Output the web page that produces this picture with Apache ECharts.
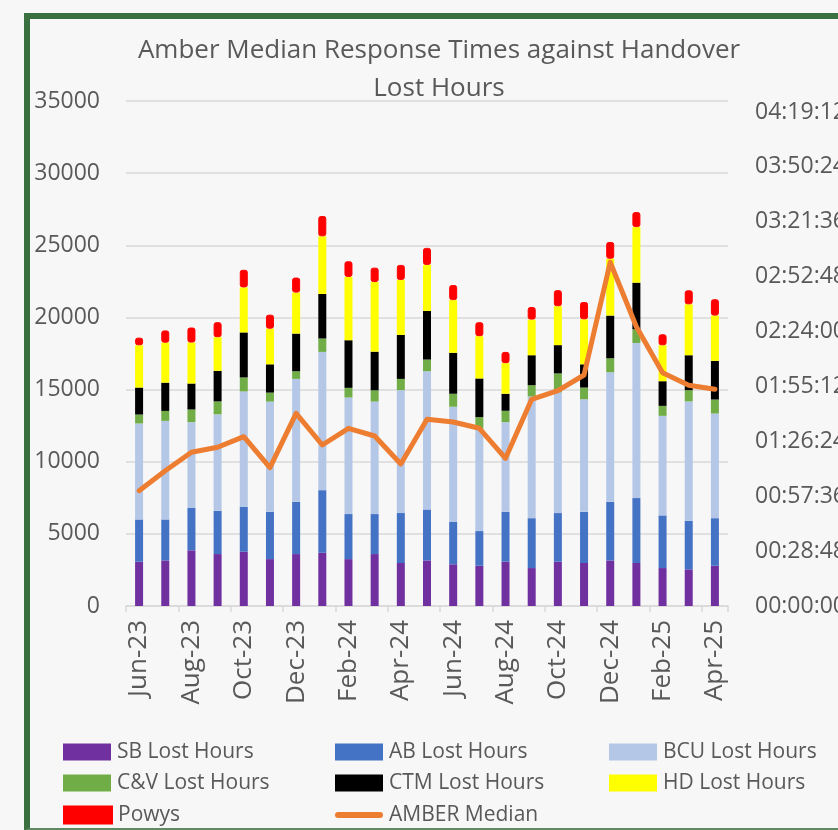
<!DOCTYPE html>
<html>
<head>
<meta charset="utf-8">
<script src="https://cdn.jsdelivr.net/npm/echarts@6/dist/echarts.min.js"></script>
<style>
  html, body { margin: 0; padding: 0; background: #f7f7f7; }
  #frame { position: absolute; left: 24px; top: 13px; width: 900px; height: 809px;
           border-left: 6px solid #3a6f40; border-top: 6px solid #3a6f40; border-bottom: 2px solid #5f8a63; }
  #chart { position: absolute; left: 0; top: 0; width: 838px; height: 830px; }
</style>
</head>
<body>
<div id="frame"></div>
<div id="chart"></div>
<script>
const categories = ['Jun-23','Jul-23','Aug-23','Sep-23','Oct-23','Nov-23','Dec-23','Jan-24','Feb-24','Mar-24','Apr-24','May-24',
  'Jun-24','Jul-24','Aug-24','Sep-24','Oct-24','Nov-24','Dec-24','Jan-25','Feb-25','Mar-25','Apr-25'];
const sbLost  = [3070,3160,3860,3600,3760,3250,3600,3690,3250,3600,2980,3160,2890,2790,3070,2630,3070,2980,3160,2980,2630,2540,2790];
const abLost  = [2930,2840,2930,3000,3120,3280,3620,4340,3120,2770,3460,3530,2930,2400,3460,3460,3370,3550,4060,4500,3650,3370,3300];
const bcuLost = [6650,6830,5950,6680,7990,7640,8520,9580,8080,7800,8520,9580,7990,7090,6210,8430,8360,7800,8980,10750,6900,8270,7250];
const cvLost  = [620,690,880,900,970,620,530,930,670,780,780,810,900,810,790,780,1320,810,970,950,690,780,970];
const ctmLost = [1870,1960,1800,2120,3120,1960,2610,3090,3300,2680,3050,3370,2840,2680,1180,2080,1960,1610,2960,3230,1710,2420,2680];
const hdLost  = [2930,2770,2840,2330,3120,2470,2840,3990,4390,4820,3810,3190,3650,2930,2120,2470,2700,3120,3940,3850,2490,3530,3140];
const powys   = [530,850,1040,1040,1220,970,1040,1410,1080,1000,1040,1180,1040,970,780,870,1110,1200,1160,1040,760,970,1130];
// AMBER median response time, in seconds
const amberMedian = [3630,4259,4838,4996,5330,4354,6066,5068,5594,5352,4470,5877,5792,5594,4650,6507,6778,7272,10820,8792,7344,6948,6822];
const leftTicks = { min: 0, max: 35000, interval: 5000 };
const rightTicks = { min: 0, max: 15897.6, interval: 1728, lastLabel: 15552 };

const FONT = "'Open Sans', 'Noto Sans', sans-serif";
const GRAY = '#595959';

function hms(v) {
  if (v > rightTicks.lastLabel + 1) return '';
  const s = Math.round(v);
  const h = Math.floor(s / 3600), m = Math.floor((s % 3600) / 60), ss = s % 60;
  const p = n => String(n).padStart(2, '0');
  return p(h) + ':' + p(m) + ':' + p(ss);
}

const barSeries = [
  ['SB Lost Hours', sbLost, '#7030a0'],
  ['AB Lost Hours', abLost, '#4472c4'],
  ['BCU Lost Hours', bcuLost, '#b4c7e7'],
  ['C&V Lost Hours', cvLost, '#70ad47'],
  ['CTM Lost Hours', ctmLost, '#000000'],
  ['HD Lost Hours', hdLost, '#ffff00'],
  ['Powys', powys, '#ff0000']
].map(([name, data, color]) => ({
  name, type: 'bar', stack: 'lost', data, barWidth: 8,
  itemStyle: name === 'Powys' ? { color, borderColor: color, borderWidth: 1, borderRadius: 2 } : { color },
  emphasis: { disabled: true }
}));

// legend placement: [name, column, row]
const legendCols = [63, 335, 609];
const legendRows = [741.5, 772.5, 804.5];
const legendLayout = [
  ['SB Lost Hours', 0, 0], ['AB Lost Hours', 1, 0], ['BCU Lost Hours', 2, 0],
  ['C&V Lost Hours', 0, 1], ['CTM Lost Hours', 1, 1], ['HD Lost Hours', 2, 1],
  ['Powys', 0, 2], ['AMBER Median', 1, 2]
];
const legends = legendLayout.map(([name, c, r]) => ({
  orient: 'horizontal', left: legendCols[c], top: legendRows[r], padding: 0,
  itemWidth: 48, itemHeight: name === 'AMBER Median' ? 6 : 17, icon: 'rect',
  textStyle: { color: GRAY, fontSize: 21, fontFamily: FONT, lineHeight: 17, padding: [0, 0, 0, 1] },
  data: name === 'AMBER Median'
    ? [{ name, icon: 'path://M3,0 L45,0 A3,3 0 0 1 45,6 L3,6 A3,3 0 0 1 3,0 Z', itemStyle: { color: '#ed7d31' } }]
    : [name]
}));

const chart = echarts.init(document.getElementById('chart'), null, { renderer: 'canvas' });
chart.setOption({
  animation: false,
  backgroundColor: 'transparent',
  title: {
    text: 'Amber Median Response Times against Handover\nLost Hours',
    left: 434, top: 27, textAlign: 'center',
    textStyle: { color: GRAY, fontSize: 26, fontWeight: 'normal', fontFamily: FONT, lineHeight: 38 }
  },
  legend: legends,
  grid: { left: 126, right: 110, top: 101, bottom: 224, containLabel: false, outerBoundsMode: 'none' },
  xAxis: {
    type: 'category', data: categories, boundaryGap: true,
    axisLine: { lineStyle: { color: '#d9d9d9', width: 1.5 } },
    axisTick: { show: true, interval: 1, length: 6, lineStyle: { color: '#d9d9d9', width: 1.5 } },
    axisLabel: { interval: 1, rotate: 90, margin: 14, color: GRAY, fontSize: 26, fontFamily: FONT }
  },
  yAxis: [
    {
      type: 'value', min: leftTicks.min, max: leftTicks.max, interval: leftTicks.interval,
      axisLine: { show: false }, axisTick: { show: false },
      splitLine: { lineStyle: { color: '#d9d9d9', width: 1.5 } },
      axisLabel: { margin: 26, color: GRAY, fontSize: 23, fontFamily: FONT, formatter: v => String(v) }
    },
    {
      type: 'value', min: rightTicks.min, max: rightTicks.max, interval: rightTicks.interval,
      axisLine: { show: false }, axisTick: { show: false }, splitLine: { show: false },
      axisLabel: { margin: 27, color: GRAY, fontSize: 23, fontFamily: FONT, formatter: hms, showMaxLabel: false }
    }
  ],
  series: barSeries.concat([{
    name: 'AMBER Median', type: 'line', yAxisIndex: 1, data: amberMedian,
    symbol: 'none', smooth: false,
    lineStyle: { color: '#ed7d31', width: 5, join: 'round', cap: 'round' },
    itemStyle: { color: '#ed7d31' },
    emphasis: { disabled: true }, z: 5
  }])
});
</script>
</body>
</html>
